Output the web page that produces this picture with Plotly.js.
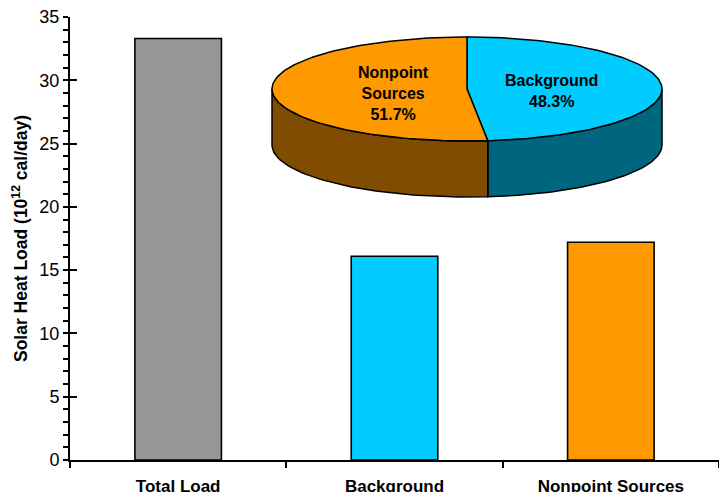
<!DOCTYPE html>
<html>
<head>
<meta charset="utf-8">
<script src="https://cdn.plot.ly/plotly-3.0.1.min.js"></script>
<style>
  html, body { margin: 0; padding: 0; background: #ffffff; }
  #chart { width: 719px; height: 492px; }
</style>
</head>
<body>
<div id="chart"></div>
<script>
// Solar heat load by source (10^12 cal/day)
const categories = ['Total Load', 'Background', 'Nonpoint Sources'];
const loads = [33.3, 16.1, 17.2];
const barColors = ['#969696', '#00CCFF', '#FF9900'];

// Share of the total load, drawn as a tilted pie (clockwise from 12 o'clock)
const pieLabels = ['Background', 'Nonpoint<br>Sources'];
const piePercent = [48.3, 51.7];
const pieTopColors = ['#00CCFF', '#FF9900'];
const pieSideColors = ['#006680', '#7F4C00'];

const yTickValues = [0, 5, 10, 15, 20, 25, 30, 35];

// ---- page / plot geometry (pixels) ----
const W = 719, H = 492;
const M = { l: 70, r: 0, t: 17, b: 32 };
// tilted pie: centre of top face, radii and thickness in page pixels
const PIE = { cx: 467, cy: 89, rx: 195, ry: 52, depth: 56 };

const FONT = 'Arial, "Liberation Sans", sans-serif';

const traces = [];

// Bars
traces.push({
  type: 'bar',
  x: categories,
  y: loads,
  width: 0.4,
  marker: { color: barColors, line: { color: '#000000', width: 1.6 } },
  hoverinfo: 'x+y',
  showlegend: false
});

// Pie helpers
const deg = Math.PI / 180;
function ptTop(a) { return [PIE.cx + PIE.rx * Math.cos(a * deg), PIE.cy - PIE.ry * Math.sin(a * deg)]; }
function arc(a0, a1, dy) {
  const n = Math.max(2, Math.ceil(Math.abs(a1 - a0) / 1.5));
  const xs = [], ys = [];
  for (let i = 0; i <= n; i++) {
    const a = a0 + (a1 - a0) * i / n;
    const p = ptTop(a);
    xs.push(p[0]); ys.push(p[1] + dy);
  }
  return [xs, ys];
}

// slice angle spans (degrees, counter-clockwise positive), going clockwise from 90
const spans = [];
let cum = 0;
piePercent.forEach(p => {
  const a0 = 90 - cum * 3.6;
  cum += p;
  const a1 = 90 - cum * 3.6;
  spans.push([a0, a1]);
});

// Side walls (front half only: angles -180..0)
spans.forEach((s, i) => {
  const hi = Math.min(s[0], 0);
  const lo = Math.max(s[1], -180);
  if (hi <= lo) return;
  const top = arc(lo, hi, 0);
  const bot = arc(hi, lo, PIE.depth);
  traces.push({
    type: 'scatter', mode: 'lines', xaxis: 'x2', yaxis: 'y2',
    x: top[0].concat(bot[0]).concat([top[0][0]]),
    y: top[1].concat(bot[1]).concat([top[1][0]]),
    fill: 'toself', fillcolor: pieSideColors[i],
    line: { color: '#000000', width: 1.5 },
    hoverinfo: 'skip', showlegend: false
  });
});

// Top faces
spans.forEach((s, i) => {
  const a = arc(s[0], s[1], 0);
  traces.push({
    type: 'scatter', mode: 'lines', xaxis: 'x2', yaxis: 'y2',
    x: [PIE.cx].concat(a[0]).concat([PIE.cx]),
    y: [PIE.cy].concat(a[1]).concat([PIE.cy]),
    fill: 'toself', fillcolor: pieTopColors[i],
    line: { color: '#000000', width: 1.5 },
    hoverinfo: 'skip', showlegend: false
  });
});

// Slice labels
const annotations = spans.map((s, i) => {
  const mid = (s[0] + s[1]) / 2;
  const c = Math.cos(mid * deg);
  const side = c >= 0 ? 1 : -1;
  return {
    xref: 'x2', yref: 'y2',
    x: PIE.cx + side * 36,
    y: PIE.cy - 0.4 * PIE.ry * Math.sin(mid * deg),
    xanchor: side > 0 ? 'left' : 'right',
    yanchor: 'middle',
    yshift: -3,
    align: 'center',
    showarrow: false,
    text: pieLabels[i] + '<br>' + piePercent[i].toFixed(1) + '%',
    font: { family: FONT, size: 16, color: '#000000', weight: 'bold' }
  };
});

const layout = {
  width: W, height: H,
  margin: M,
  paper_bgcolor: '#ffffff',
  plot_bgcolor: '#ffffff',
  showlegend: false,
  xaxis: {
    type: 'category',
    showline: true, linecolor: '#000000', linewidth: 2,
    ticks: 'outside', tickson: 'boundaries', ticklen: 6, tickwidth: 1.5, tickcolor: '#000000',
    ticklabelstandoff: 10,
    tickfont: { family: FONT, size: 17, color: '#000000', weight: 'bold' },
    showgrid: false, zeroline: false,
    fixedrange: true
  },
  yaxis: {
    range: [0, 35],
    tickvals: yTickValues,
    showline: true, linecolor: '#000000', linewidth: 2,
    ticks: 'outside', ticklen: 5, tickwidth: 2, tickcolor: '#000000',
    minor: { dtick: 1, ticks: 'outside', ticklen: 5, tickwidth: 1.5, tickcolor: '#000000' },
    tickfont: { family: FONT, size: 18, color: '#000000' },
    showgrid: false, zeroline: false,
    title: {
      text: 'Solar Heat Load (10<sup>12</sup> cal/day)',
      font: { family: FONT, size: 17.5, color: '#000000', weight: 'bold' },
      standoff: 7
    },
    fixedrange: true
  },
  // inward half of the crossing major ticks
  yaxis3: {
    overlaying: 'y', anchor: 'x', side: 'left',
    range: [0, 35],
    tickvals: yTickValues,
    ticks: 'inside', ticklen: 7, tickwidth: 2, tickcolor: '#000000',
    showticklabels: false, showline: false, showgrid: false, zeroline: false,
    fixedrange: true
  },
  // pixel-space axes for the tilted pie
  xaxis2: {
    overlaying: 'x', anchor: 'y2',
    range: [M.l, W - M.r],
    visible: false, fixedrange: true
  },
  yaxis2: {
    overlaying: 'y', anchor: 'x2',
    range: [H - M.b, M.t],
    visible: false, fixedrange: true
  },
  annotations: annotations
};

// a trace on yaxis3 so the overlay axis is drawn
traces.push({
  type: 'scatter', mode: 'markers', x: [categories[0]], y: [0], yaxis: 'y3',
  marker: { opacity: 0 }, hoverinfo: 'skip', showlegend: false
});

Plotly.newPlot('chart', traces, layout, { displayModeBar: false, staticPlot: false });
</script>
</body>
</html>
